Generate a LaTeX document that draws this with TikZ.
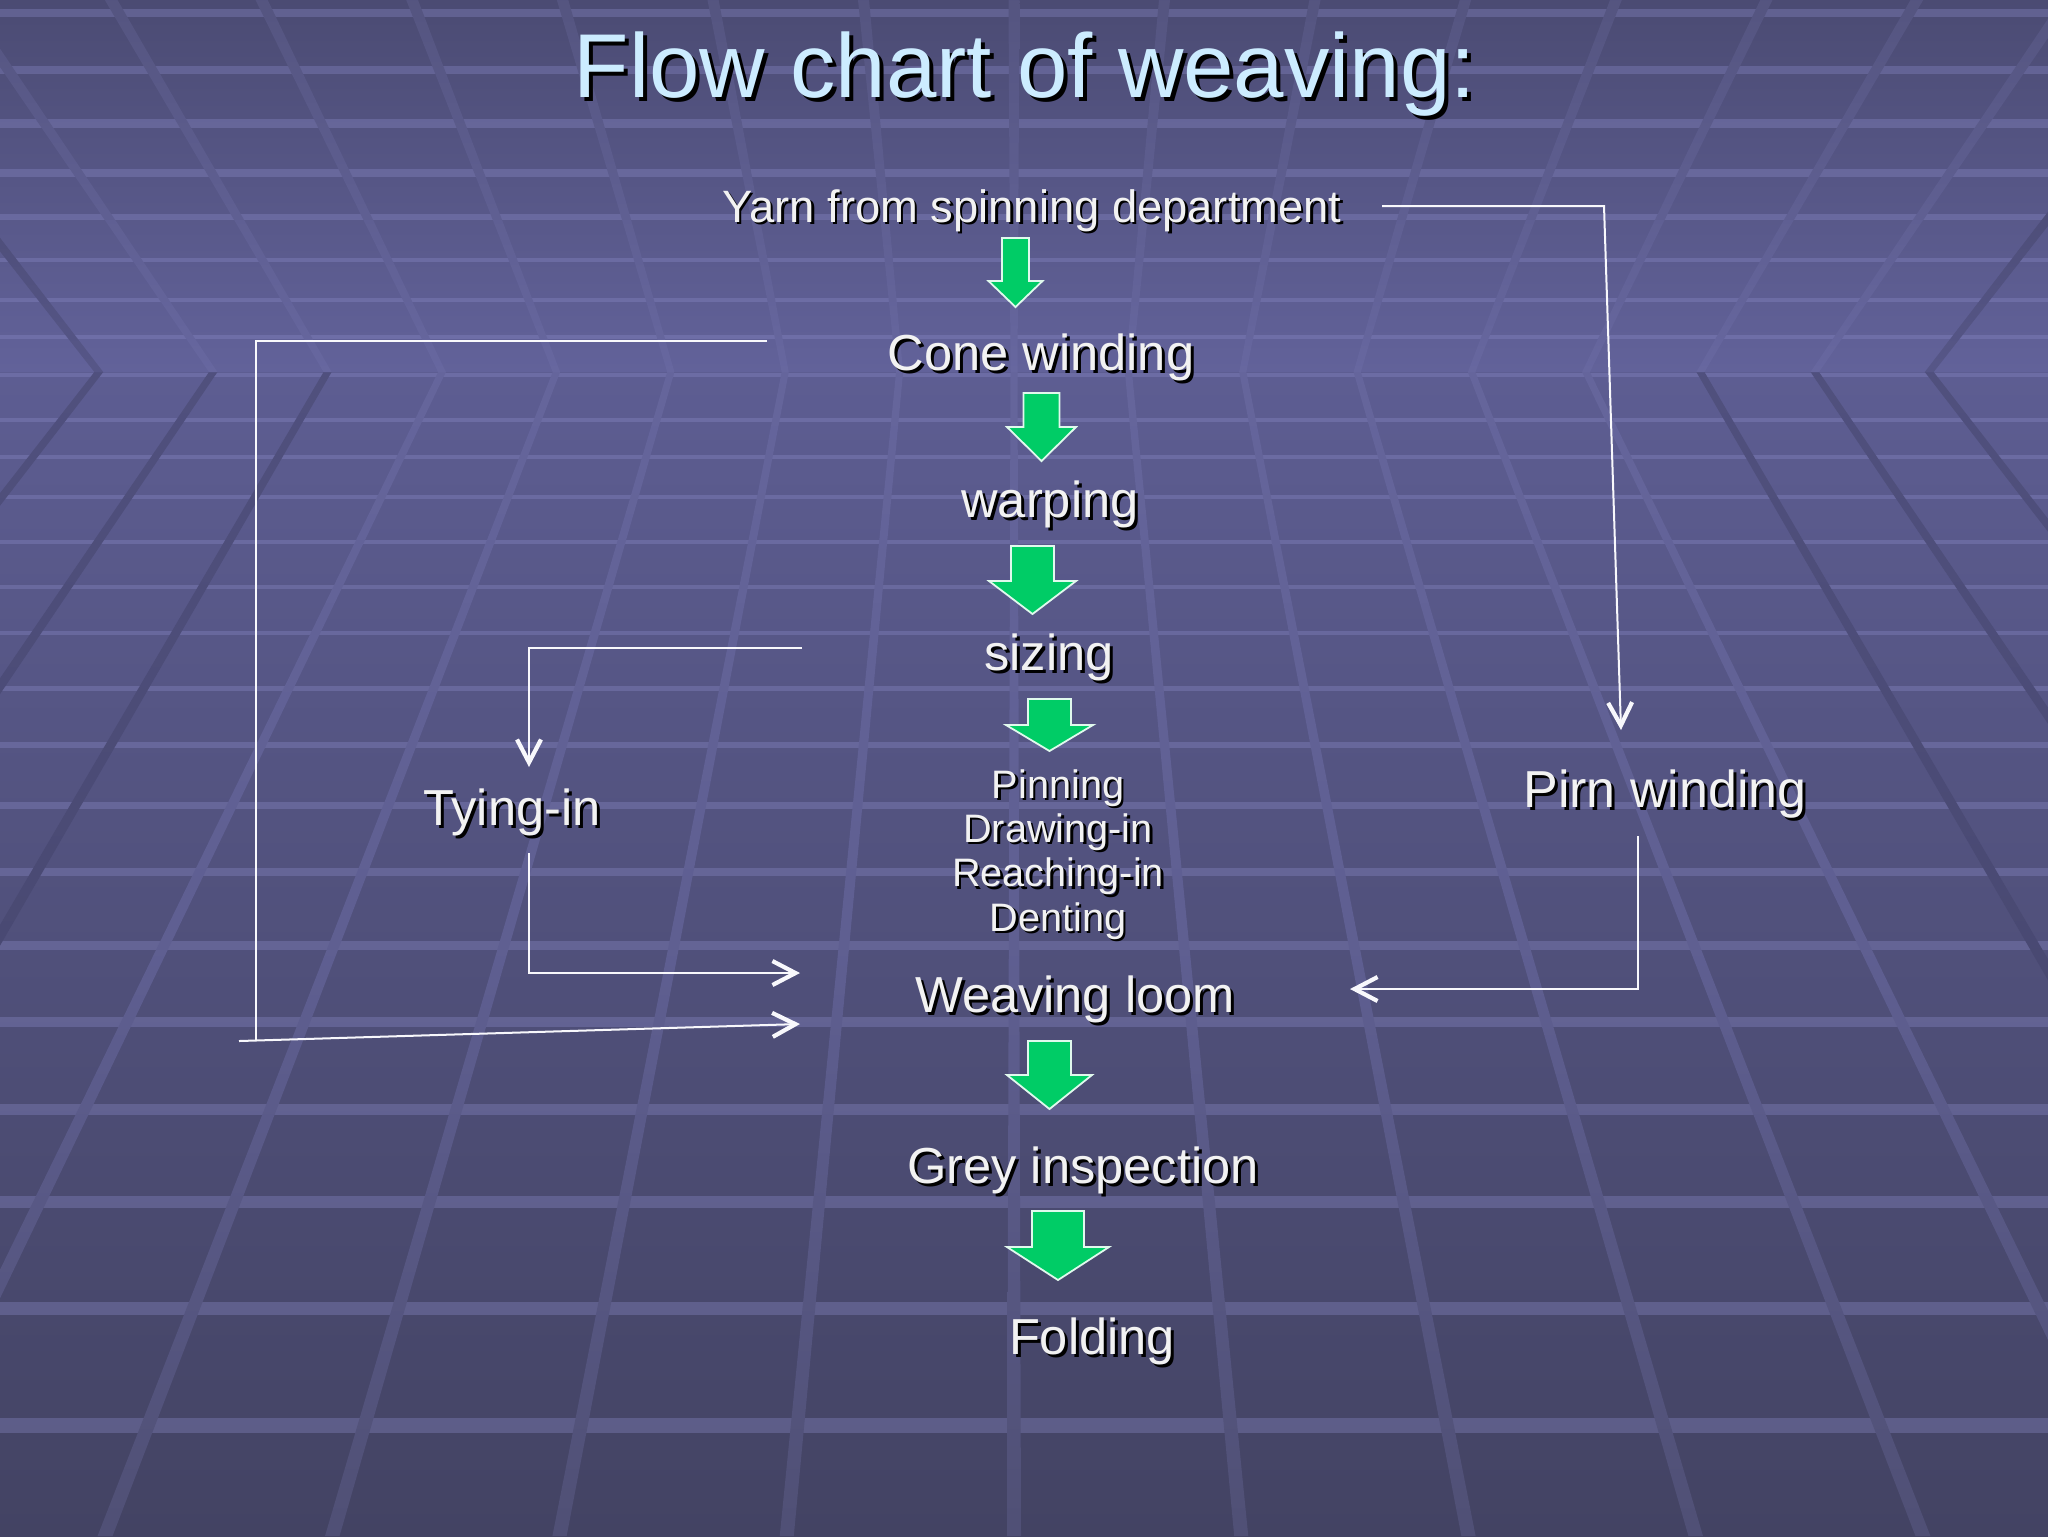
\documentclass[tikz,border=0pt]{standalone}
\usepackage{fontspec}
\setmainfont{Liberation Sans}
\usetikzlibrary{arrows.meta}
\definecolor{clT}{HTML}{4B4B73}
\definecolor{clB}{HTML}{62629A}
\definecolor{flT}{HTML}{5D5D92}
\definecolor{flM}{HTML}{555585}
\definecolor{flB}{HTML}{434363}
\definecolor{lav}{HTML}{8A8AC8}
\colorlet{clLT}{clT!85!lav}
\colorlet{clLB}{clB!88!lav}
\colorlet{clDT}{clT!88!black}
\colorlet{clDB}{clB!88!black}
\colorlet{flLT}{flT!82!lav}
\colorlet{flLM}{flM!82!lav}
\colorlet{flLB}{flB!82!lav}
\colorlet{flDT}{flT!86!black}
\colorlet{flDM}{flM!86!black}
\colorlet{flDB}{flB!86!black}
\definecolor{grn}{HTML}{00CC66}
\definecolor{txtc}{HTML}{F2F2F2}
\definecolor{ttlc}{HTML}{CCECFF}
\newcommand\garrow[6]{%
  \draw[garr] ({#1-#3},#2) -- ({#1+#3},#2) -- ({#1+#3},#4) -- ({#1+#5},#4) -- (#1,#6)
    -- ({#1-#5},#4) -- ({#1-#3},#4) -- cycle;}
\newcommand\lbl[6]{%
  \node[shd, font=\fontsize{#4}{#4}\selectfont] (#1-sh) at ({#2+#5},{#3+#5}) {#6};
  \node[txt, font=\fontsize{#4}{#4}\selectfont] (#1) at (#2,#3) {#6};}
\begin{document}
\begin{tikzpicture}[x=0.1mm,y=-0.1mm,
  txt/.style={text=txtc, inner sep=0pt, anchor=base},
  shd/.style={text=black, inner sep=0pt, anchor=base},
  conn/.style={draw=white!94!lav, line width=0.2mm},
  vtip/.style={-{Straight Barb[length=2.3mm,width=2.4mm,line width=0.42mm]}},
  garr/.style={fill=grn, draw=white!88!grn, line width=0.18mm, line join=miter}]
\useasboundingbox (0,0) rectangle (2048,1536);
% ---------- background ----------
\begin{scope}
\clip (0,0) rectangle (2048,1536);
\shade[top color=clT, bottom color=clB] (0,0) rectangle (2048,372);
\shade[top color=flT, middle color=flM, bottom color=flB] (0,372) rectangle (2048,1536);
\foreach \y/\t in {13/8,70/8,123/9,173/8,217/6,260/4,300/4,337/4,375/4,420/4,457/4,497/4,
   542/4,587/4,633/4,688/5,745/6,805/7,872/8,945/9,1022/10,1109/11,1202/12,1308/13,1425/15}
  \fill[lav, opacity=0.35] (0,{\y-\t/2}) rectangle (2048,{\y+\t/2});
\foreach \k in {-8,...,8}{
  \pgfmathsetmacro\xh{1014+114.4*\k}
  \pgfmathsetmacro\xb{1014+227.24*\k}
  \pgfmathsetmacro\sc{sqrt(1+(0.097*\k)*(0.097*\k))}
  \pgfmathtruncatemacro\dk{abs(\k)>=6}
  \ifnum\dk=1 \def\pre{flD}\else\def\pre{flL}\fi
  \shade[top color=\pre T, bottom color=\pre B, middle color=\pre M]
    ({\xh-3.5*\sc},372) -- ({\xh+3.5*\sc},372) -- ({\xb+7*\sc},1536) -- ({\xb-7*\sc},1536) -- cycle;
}
\foreach \k in {-8,...,8}{
  \pgfmathsetmacro\xh{1014+114.4*\k}
  \pgfmathsetmacro\xt{1014+150.47*\k}
  \pgfmathsetmacro\sc{sqrt(1+(0.097*\k)*(0.097*\k))}
  \pgfmathtruncatemacro\dk{abs(\k)>=8}
  \ifnum\dk=1 \def\pre{clD}\else\def\pre{clL}\fi
  \shade[top color=\pre T, bottom color=\pre B]
    ({\xt-5.5*\sc},0) -- ({\xt+5.5*\sc},0) -- ({\xh+3.5*\sc},372) -- ({\xh-3.5*\sc},372) -- cycle;
}
\end{scope}
% ---------- title ----------
\node[shd, font=\fontsize{25.8}{30}\selectfont] (title-sh) at (1029,101) {Flow chart of weaving:};
\node[txt, text=ttlc, font=\fontsize{25.8}{30}\selectfont] (title) at (1025,97) {Flow chart of weaving:};
% ---------- labels ----------
\lbl{yarn}{1032}{222}{12.9}{2.5}{Yarn from spinning department}
\lbl{cone}{1041}{370}{14.4}{3}{Cone winding}
\lbl{warp}{1050}{517}{14.4}{3}{warping}
\lbl{size}{1049}{670}{14.4}{3}{sizing}
\lbl{tying}{512}{825}{14.4}{3}{Tying-in}
\lbl{pirn}{1665}{807}{14.8}{3}{Pirn winding}
\lbl{weave}{1075}{1012}{14.4}{3}{Weaving loom}
\lbl{grey}{1083}{1183}{14.4}{3}{Grey inspection}
\lbl{fold}{1092}{1354}{14.4}{3}{Folding}
\node[shd, font=\fontsize{11.3}{12.63}\selectfont] (pin-sh) at (1060.5,800.5)
  {\begin{tabular}[t]{@{}c@{}}Pinning\\Drawing-in\\Reaching-in\\Denting\end{tabular}};
\node[txt, font=\fontsize{11.3}{12.63}\selectfont] (pin) at (1058,798)
  {\begin{tabular}[t]{@{}c@{}}Pinning\\Drawing-in\\Reaching-in\\Denting\end{tabular}};
% ---------- green block arrows ----------
\garrow{1015.5}{238}{13.5}{281}{27}{307}
\garrow{1041.5}{393}{18}{427}{34.5}{461}
\garrow{1032.5}{546}{21.5}{581}{43.5}{614}
\garrow{1049.5}{699}{21.5}{725}{43.5}{751}
\garrow{1049.5}{1041}{21.5}{1075}{42.5}{1109}
\garrow{1058}{1211}{26}{1247}{51}{1280}
% ---------- connectors ----------
\coordinate (yarnout) at (1382,206);
\coordinate (yk) at (1604,206);
\coordinate (pirnin) at (1621,730);
\coordinate (coneout) at (767,341);
\coordinate (lk1) at (256,341);
\coordinate (lk2) at (256,1041);
\coordinate (lk3) at (239,1041);
\coordinate (weavein2) at (800,1024);
\coordinate (sizeout) at (802,648);
\coordinate (tk1) at (529,648);
\coordinate (tyin) at (529,767);
\coordinate (tyout) at (529,853);
\coordinate (tk2) at (529,973);
\coordinate (weavein1) at (800,973);
\coordinate (pirnout) at (1638,836);
\coordinate (pk) at (1638,989);
\coordinate (weavein3) at (1350,989);
\draw[conn, vtip] (yarnout) -- (yk) -- (pirnin);
\draw[conn] (coneout) -- (lk1) -- (lk2);
\draw[conn, vtip] (lk3) -- (weavein2);
\draw[conn, vtip] (sizeout) -- (tk1) -- (tyin);
\draw[conn, vtip] (tyout) -- (tk2) -- (weavein1);
\draw[conn, vtip] (pirnout) -- (pk) -- (weavein3);
\end{tikzpicture}
\end{document}
